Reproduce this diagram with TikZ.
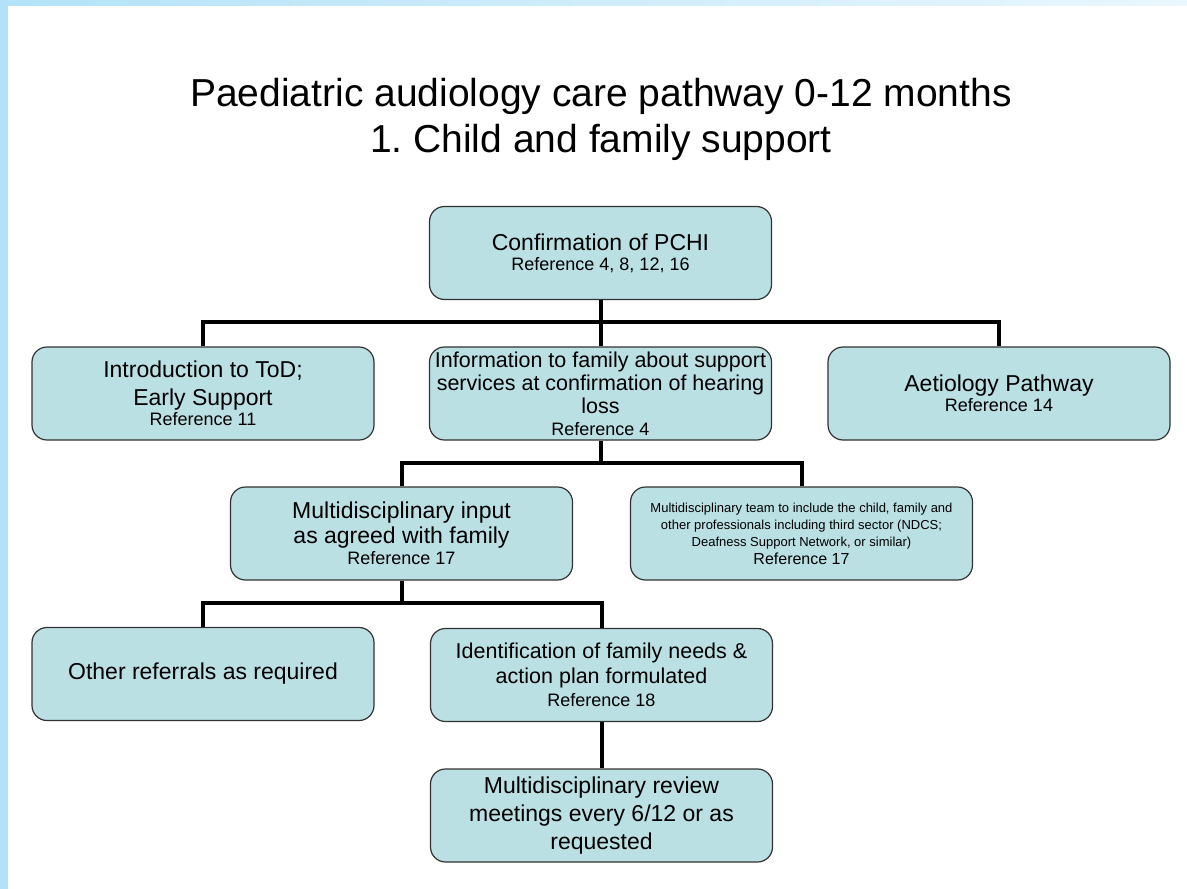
\documentclass[tikz,border=0pt]{standalone}
\usepackage{fontspec}
\setmainfont{Liberation Sans}
\frenchspacing

\definecolor{boxfill}{RGB}{187,224,227}
\definecolor{boxline}{RGB}{50,50,50}
\definecolor{barblue}{RGB}{179,226,248}
\definecolor{barlight}{RGB}{234,247,253}

\newcommand{\reftext}[1]{{\fontsize{18}{21}\selectfont #1}}

\begin{document}
\begin{tikzpicture}[x=1pt,y=-1pt,
  pathbox/.style={draw=boxline, line width=1.2pt, fill=boxfill,
    rounded corners=15pt, minimum width=342pt, minimum height=93pt,
    inner sep=0pt, align=center,
    font=\fontsize{23}{28}\selectfont},
  densebox/.style={pathbox, font=\fontsize{21.5}{23}\selectfont},
  smallbox/.style={pathbox, font=\fontsize{13}{17}\selectfont},
  conn/.style={line width=4pt, black},
  titletext/.style={font=\fontsize{39}{46}\selectfont, inner sep=0pt, anchor=base}
]
\useasboundingbox (0,0) rectangle (1187,889);

% frame strips
\fill[barblue] (0,0) rectangle (8,889);
\shade[left color=barblue, right color=barlight] (0,0) rectangle (1187,5);

% heading
\node[titletext] (title1) at (601,106) {Paediatric audiology care pathway 0-12 months};
\node[titletext] (title2) at (601,152) {1. Child and family support};

% boxes
\node[pathbox] (pchi) at (600.5,253) {Confirmation of PCHI\\[-8pt]\reftext{Reference 4, 8, 12, 16}};
\node[pathbox] (tod) at (203,393.5) {Introduction to ToD;\\Early Support\\[-8pt]\reftext{Reference 11}};
\node[densebox] (info) at (600.5,393.5) {Information to family about support\\services at confirmation of hearing\\loss\\[-1pt]\reftext{Reference 4}};
\node[pathbox] (aet) at (999,393.5) {Aetiology Pathway\\[-8pt]\reftext{Reference 14}};
\node[pathbox] (mdi) at (401.5,533.5) {Multidisciplinary input\\[-3pt]as agreed with family\\[-7pt]\reftext{Reference 17}};
\node[smallbox] (mdt) at (801.5,533.5) {Multidisciplinary team to include the child, family and\\other professionals including third sector (NDCS;\\Deafness Support Network, or similar)\\[1pt]{\fontsize{16}{19}\selectfont Reference 17}};
\node[pathbox] (other) at (203,674) {Other referrals as required};
\node[densebox] (needs) at (601.5,675) {Identification of family needs \&\\[2pt]action plan formulated\\\reftext{Reference 18}};
\node[pathbox] (review) at (601.5,815.5) {Multidisciplinary review\\meetings every 6/12 or as\\requested};

% bus levels
\coordinate (bus1) at (0,322);
\coordinate (bus2) at (0,463);
\coordinate (bus3) at (0,603);

% connectors
\draw[conn] (pchi.south) -- (info.north);
\draw[conn] (tod.north) -- (tod.north |- bus1) -- (aet.north |- bus1) -- (aet.north);

\draw[conn] (info.south) -- (info.south |- bus2);
\draw[conn] (mdi.north) -- (mdi.north |- bus2) -- (mdt.north |- bus2) -- (mdt.north);

\draw[conn] (mdi.south) -- (mdi.south |- bus3);
\draw[conn] (other.north) -- (other.north |- bus3) -- (needs.north |- bus3) -- (needs.north);

\draw[conn] (needs.south) -- (review.north);
\end{tikzpicture}
\end{document}
